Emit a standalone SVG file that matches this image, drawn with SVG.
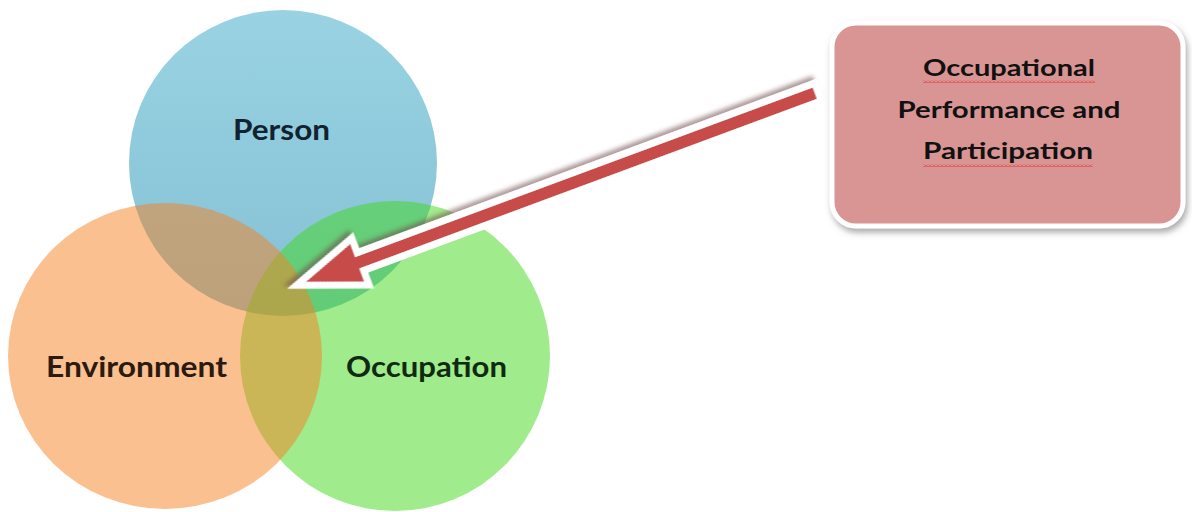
<svg xmlns="http://www.w3.org/2000/svg" width="1192" height="512" viewBox="0 0 1192 512">
<defs>
<linearGradient id="gBlue" x1="0" y1="0" x2="0" y2="1">
<stop offset="0" stop-color="#99D3E3"/>
<stop offset="1" stop-color="#84C0D4"/>
</linearGradient>
<filter id="sh" x="-10%" y="-20%" width="130%" height="150%">
<feDropShadow dx="3" dy="4" stdDeviation="2" flood-color="#6e4848" flood-opacity="0.55"/>
</filter>
<filter id="bsh" x="-5%" y="-5%" width="115%" height="120%">
<feDropShadow dx="2" dy="4" stdDeviation="3" flood-color="#707070" flood-opacity="0.6"/>
</filter>
<pattern id="sq" width="4" height="3" patternUnits="userSpaceOnUse">
<path d="M0,2.5 L2,0.5 L4,2.5" fill="none" stroke="#e02a2a" stroke-width="0.9"/>
</pattern>
</defs>
<style>
.lbl{font-family:Lato,"Open Sans","Liberation Sans",sans-serif;font-weight:700;text-anchor:middle}
.big{font-size:29px}
.box{font-size:23px;fill:#111}
</style>
<rect width="1192" height="512" fill="#ffffff"/>
<g id="person">
<ellipse cx="283" cy="163" rx="154" ry="153" fill="url(#gBlue)"/>
<text class="lbl big" x="281.5" y="140" fill="#10232f" textLength="97" lengthAdjust="spacingAndGlyphs">Person</text>
</g>
<g id="occupation">
<ellipse cx="395" cy="356" rx="155" ry="155" fill="#41D719" fill-opacity="0.5"/>
<text class="lbl big" x="426.5" y="377" fill="#0f2a10" textLength="161" lengthAdjust="spacingAndGlyphs">Occupation</text>
</g>
<g id="environment">
<ellipse cx="165" cy="356" rx="157" ry="153" fill="#F58121" fill-opacity="0.5"/>
<text class="lbl big" x="136.5" y="377" fill="#2b1a0e" textLength="181" lengthAdjust="spacingAndGlyphs">Environment</text>
</g>
<g id="connectors">
<polygon transform="translate(818,92) rotate(159.66)" points="0,-9.5 488,-9.5 488,-25 556,0 488,25 488,9.5 0,9.5" fill="#C64B48" stroke="#ffffff" stroke-width="7" stroke-linejoin="miter" filter="url(#sh)"/>
</g>
<g id="callout">
<rect x="832" y="23" width="351" height="203" rx="24" fill="#D99594" stroke="#ffffff" stroke-width="5" filter="url(#bsh)"/>
<text class="lbl box" x="1009" y="76" textLength="172" lengthAdjust="spacingAndGlyphs">Occupational</text>
<text class="lbl box" x="1009" y="118" textLength="223" lengthAdjust="spacingAndGlyphs">Performance and</text>
<text class="lbl box" x="1008" y="159" textLength="170" lengthAdjust="spacingAndGlyphs">Participation</text>
<rect x="923" y="80" width="172" height="3" fill="url(#sq)"/>
<rect x="923" y="164" width="170" height="3" fill="url(#sq)"/>
</g>
</svg>
